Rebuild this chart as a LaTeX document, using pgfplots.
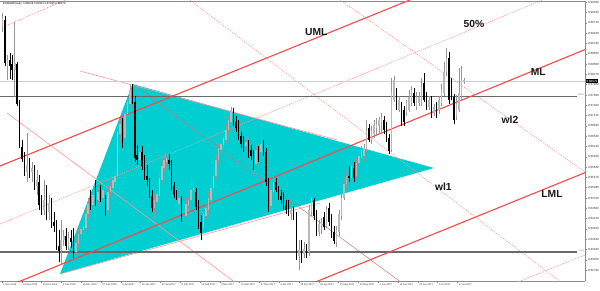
\documentclass[border=0pt]{standalone}
\usepackage{fontspec}
\setmainfont{Liberation Sans}
\usepackage{pgfplots}
\pgfplotsset{compat=1.18}
\usepackage{pgfplotstable}
\definecolor{pfred}{RGB}{255,70,70}
\definecolor{pinkl}{RGB}{255,150,150}
\definecolor{pinkd}{RGB}{210,120,120}
\definecolor{tri}{RGB}{0,206,209}
\definecolor{bullc}{RGB}{185,185,185}
\definecolor{bullw}{RGB}{150,150,150}
\definecolor{darkg}{RGB}{105,105,105}
\definecolor{lightg}{RGB}{205,205,215}
\definecolor{framec}{RGB}{140,140,140}

\pgfplotstableread{
x o h l c
2.5 26 13 32 18
4.95 20 16 66 63
7.4 66 55 80 60
9.85 60 53 79 66
12.3 64 55 80 70
14.75 70 22 97 63
17.2 64 62 106 104
19.65 104 100 148 146
22.1 147 140 162 159
24.55 160 152 176 170
27.0 172 133 182 165
29.45 166 158 178 172
31.9 172 162 182 168
34.35 170 165 190 186
36.8 186 170 195 180
39.25 182 175 210 205
41.7 205 195 215 210
44.15 210 180 215 200
46.6 200 185 220 212
49.05 212 195 220 203
51.5 204 198 228 222
53.95 222 212 232 226
56.4 226 220 250 246
58.85 246 230 262 251
61.3 250 220 264 240
63.75 240 230 246 236
66.2 236 228 250 246
68.65 246 232 250 238
71.1 238 230 248 242
73.55 236 228 258 253
76.0 252 238 256 243
78.45 244 228 248 234
80.9 234 222 240 229
83.35 230 218 236 226
85.8 228 208 232 214
88.25 214 198 218 204
90.7 198 190 210 205
93.15 205 186 210 195
95.6 196 180 206 200
98.05 200 188 205 192
100.5 192 185 202 198
102.95 198 180 202 190
105.4 198 195 216 212
107.85 210 186 214 192
110.3 192 182 196 186
112.75 188 176 192 180
115.2 182 170 188 176
117.65 176 125 180 132
120.1 134 118 142 124
122.55 124 118 148 140
125.0 138 108 142 114
127.45 114 98 118 102
129.9 104 84 108 90
132.35 88 84 104 100
134.8 102 96 162 158
137.25 155 145 165 160
139.7 160 148 165 152
142.15 152 146 170 166
144.6 164 155 180 176
147.05 176 165 186 180
149.5 182 178 198 195
151.95 196 190 212 208
154.4 208 195 217 200
156.85 202 188 210 194
159.3 196 172 205 178
161.75 180 160 184 166
164.2 168 155 172 160
166.65 162 154 168 158
169.1 160 154 170 164
171.55 162 160 190 186
174.0 186 182 198 195
176.45 195 190 200 198
178.9 204 195 210 198
181.35 200 196 222 218
186.0 216 198 218 204
188.5 206 198 212 200
191.0 200 175 203 190
193.5 190 180 196 188
195.8 192 188 210 207
198.3 205 200 229 226
201.0 222 215 240 233
203.5 228 212 232 214
206.0 216 204 220 208
208.5 210 192 214 198
211.0 200 175 204 188
213.5 188 170 192 176
216.0 176 155 180 160
218.5 160 144 164 148
221.0 150 138 154 144
223.5 145 134 150 138
226.0 140 124 144 130
228.5 130 116 134 120
231.0 122 107 126 110
233.5 110 108 126 122
236.0 122 116 132 128
238.5 124 120 140 136
241.0 136 132 148 144
243.5 142 136 152 148
246.0 146 138 152 142
248.5 144 140 158 154
251.0 150 145 160 156
253.5 155 150 170 166
256.0 164 145 166 150
258.5 150 146 162 158
261.0 152 125 154 144
263.5 144 140 156 152
266.0 152 148 186 182
268.5 182 178 212 208
271.0 206 180 210 190
273.5 192 175 196 182
276.0 182 178 192 190
278.5 190 186 200 197
281.0 196 190 204 200
283.5 198 192 210 207
286.0 205 200 214 210
288.5 208 200 216 213
291.0 214 206 220 210
293.5 212 206 220 216
296.5 216 212 260 256
299.0 256 240 270 250
301.5 250 240 263 254
304.0 254 242 258 249
306.5 250 244 258 252
309.0 252 205 256 210
311.5 212 195 216 198
314.0 200 198 220 216
316.5 214 210 236 232
319.0 232 220 236 224
321.5 226 218 234 222
324.0 217 212 230 227
326.5 226 206 228 210
329.0 208 203 226 222
331.5 220 214 238 235
334.0 232 226 244 241
336.5 242 226 247 230
339.0 232 210 236 214
341.5 216 192 220 198
344.0 198 178 200 184
346.5 184 170 188 176
349.0 176 166 182 178
351.5 178 160 180 166
354.0 168 162 182 178
356.5 176 158 178 163
359.0 163 150 166 156
361.5 158 146 163 150
364.0 156 144 162 148
366.5 150 120 152 132
369.0 128 124 142 140
371.5 140 126 144 131
374.0 134 120 138 125
376.5 128 118 136 124
379.0 126 117 134 120
381.5 122 113 132 117
384.0 120 116 134 130
386.5 128 122 142 140
389.0 138 134 154 151
391.5 150 78 152 92
394.0 100 76 102 80
396.5 92 88 110 107
399.0 110 96 112 100
401.5 106 102 126 123
404.0 110 106 126 122
406.5 113 100 116 103
409.0 110 90 112 97
411.5 103 86 106 90
414.0 93 88 106 103
416.5 107 92 110 97
419.0 103 92 106 97
421.5 103 78 106 87
424.0 83 73 102 100
426.5 97 92 110 107
429.0 107 96 110 100
431.5 100 96 118 113
434.0 113 104 116 107
436.5 107 102 118 113
439.0 110 96 114 100
441.5 103 84 106 90
444.0 93 62 96 72
446.5 72 48 76 58
449.0 58 52 104 100
451.5 86 78 100 97
454.0 97 94 124 120
456.5 116 95 120 104
459.0 110 68 112 93
461.5 96 66 100 80
464.0 82 78 84 80
}\candles

\begin{document}
\begin{tikzpicture}
\begin{axis}[
  scale only axis, width=585pt, height=280pt,
  xmin=0, xmax=585, ymin=1, ymax=281, y dir=reverse,
  axis y line*=right, axis x line*=bottom,
  axis line style={draw=framec, line width=0.8pt},
  clip mode=individual,
  tick align=outside, major tick length=2pt,
  every tick/.style={draw=framec, line width=0.4pt},
  ytick={2.3,12.6,22.9,33.2,43.5,53.8,64.1,74.4,84.7,95.0,105.3,115.6,125.9,136.2,146.5,156.8,167.1,177.4,187.7,198.0,208.3,218.6,228.9,239.2,249.5,259.8,270.1},
  yticklabels={0.90300,0.90010,0.89720,0.89430,0.89140,0.88850,0.88560,0.88270,0.87980,0.87690,0.87400,0.87110,0.86820,0.86530,0.86240,0.85950,0.85660,0.85370,0.85080,0.84790,0.84500,0.84210,0.83920,0.83630,0.83340,0.83050,0.82760},
  yticklabel style={font=\fontsize{3}{3.5}\selectfont, anchor=west, inner sep=0.8pt, text=black!80},
  xtick={2,21.8,41.6,61.4,81.2,101,120.8,140.6,160.4,180.2,200,219.8,239.6,259.4,279.2,299,318.8,338.6,358.4,378.2,398,417.8,437.6,457.4},
  xticklabels={1 Nov 2016,11 Nov 2016,23 Nov 2016,5 Dec 2016,15 Dec 2016,27 Dec 2016,6 Jan 2017,18 Jan 2017,30 Jan 2017,9 Feb 2017,21 Feb 2017,3 Mar 2017,15 Mar 2017,27 Mar 2017,6 Apr 2017,18 Apr 2017,28 Apr 2017,10 May 2017,22 May 2017,1 Jun 2017,13 Jun 2017,23 Jun 2017,5 Jul 2017,17 Jul 2017},
  xticklabel style={font=\fontsize{2.5}{3}\selectfont, anchor=north west, inner sep=0.8pt, xshift=0.5pt, text=black!80},
]
% triangle
\addplot[fill=tri, draw=none] coordinates {(132.5,84) (434,168) (60,274) (132.5,84)};
% pink helper lines
\addplot[pinkl, line width=0.6pt] coordinates {(80,71) (337,140)};
\addplot[pinkl, line width=0.6pt] coordinates {(60,274) (320,203)};
\addplot[pinkl, line width=0.6pt] coordinates {(7,113) (240,286)};
\addplot[pinkd, line width=0.5pt] coordinates {(132.5,84) (402,283)};
\addplot[pinkl, line width=0.6pt, dash pattern=on 1.2pt off 1pt] coordinates {(188,-1.5) (562,283)};
\addplot[pinkl, line width=0.6pt, dash pattern=on 1.2pt off 1pt] coordinates {(338,-1.5) (590,175.5)};
\addplot[pinkl, line width=0.6pt, dash pattern=on 1.2pt off 1pt] coordinates {(0,224) (545,-1)};
\addplot[pinkl, line width=0.6pt, dash pattern=on 2pt off 1.2pt] coordinates {(5,26) (70,-2)};
\addplot[pinkl, line width=0.6pt, dash pattern=on 2pt off 1.2pt] coordinates {(515,283) (590,253)};
% horizontal levels
\addplot[lightg, line width=0.9pt] coordinates {(0,81) (585,81)};
\addplot[darkg, line width=0.9pt] coordinates {(0,96) (577,96)};
\addplot[darkg, line width=1.2pt] coordinates {(0,252) (577,252)};
% pitchfork
\addplot[pfred, line width=1.1pt] coordinates {(0,166) (420,-4.1)};
\addplot[pfred, line width=1.1pt] coordinates {(15,283.3) (590,47.5)};
\addplot[pfred, line width=1.1pt] coordinates {(313,283) (590,170.6)};
% candles: wicks
\addplot[draw=none, mark=none, error bars/.cd, y dir=plus, y explicit, error mark=none,
  error bar style={draw=bullw, line width=0.5pt}]
  table[x=x, y expr=\thisrow{h}, y error plus expr={ifthenelse(\thisrow{o}>\thisrow{c},\thisrow{l}-\thisrow{h},0)}] {\candles};
\addplot[draw=none, mark=none, error bars/.cd, y dir=plus, y explicit, error mark=none,
  error bar style={draw=black, line width=0.5pt}]
  table[x=x, y expr=\thisrow{h}, y error plus expr={ifthenelse(\thisrow{o}>\thisrow{c},0,\thisrow{l}-\thisrow{h})}] {\candles};
% candles: bodies
\addplot[draw=none, mark=none, error bars/.cd, y dir=plus, y explicit, error mark=none,
  error bar style={draw=bullc, line width=1.6pt, line cap=butt}]
  table[x=x, y expr=\thisrow{c}, y error plus expr={max(\thisrow{o}-\thisrow{c},0)}] {\candles};
\addplot[draw=none, mark=none, error bars/.cd, y dir=plus, y explicit, error mark=none,
  error bar style={draw=black, line width=1.6pt, line cap=butt}]
  table[x=x, y expr=\thisrow{o}, y error plus expr={max(\thisrow{c}-\thisrow{o},0)}] {\candles};
% top border
\addplot[framec, line width=0.8pt] coordinates {(0,1) (585,1)};
% texts
\node[font=\fontsize{10.3}{12}\selectfont\bfseries, text=black!90] at (axis cs:316.3,31.7) {UML};
\node[font=\fontsize{10.3}{12}\selectfont\bfseries, text=black!90] at (axis cs:474,24) {50\%};
\node[font=\fontsize{10.3}{12}\selectfont\bfseries, text=black!90] at (axis cs:538.3,71.7) {ML};
\node[font=\fontsize{10.3}{12}\selectfont\bfseries, text=black!90] at (axis cs:510,120) {wl2};
\node[font=\fontsize{10.3}{12}\selectfont\bfseries, text=black!90] at (axis cs:443.3,186.7) {wl1};
\node[font=\fontsize{10.3}{12}\selectfont\bfseries, text=black!90] at (axis cs:552,194.3) {LML};
\node[anchor=west, font=\fontsize{2.8}{3}\selectfont, inner sep=0pt] at (axis cs:3,4) {EURGBP,Daily\ \ 0.88048 0.88111 0.87935 0.88079};
\node[anchor=west, fill=black, text=white, font=\fontsize{3}{3.5}\selectfont, inner sep=0.7pt] at (axis cs:585.6,81) {0.88079};
\node[anchor=east, fill=white, text=darkg, font=\fontsize{2.3}{3}\selectfont, inner sep=0.4pt] at (axis cs:584.5,94.6) {100.0};
\node[anchor=east, fill=white, text=darkg, font=\fontsize{2.3}{3}\selectfont, inner sep=0.4pt] at (axis cs:584.5,250.6) {76.4};
\coordinate (bbA) at (axis cs:0,0);
\coordinate (bbB) at (axis cs:600,291);
\end{axis}
\pgfresetboundingbox
\path[use as bounding box] (bbA) rectangle (bbB);
\end{tikzpicture}
\end{document}
